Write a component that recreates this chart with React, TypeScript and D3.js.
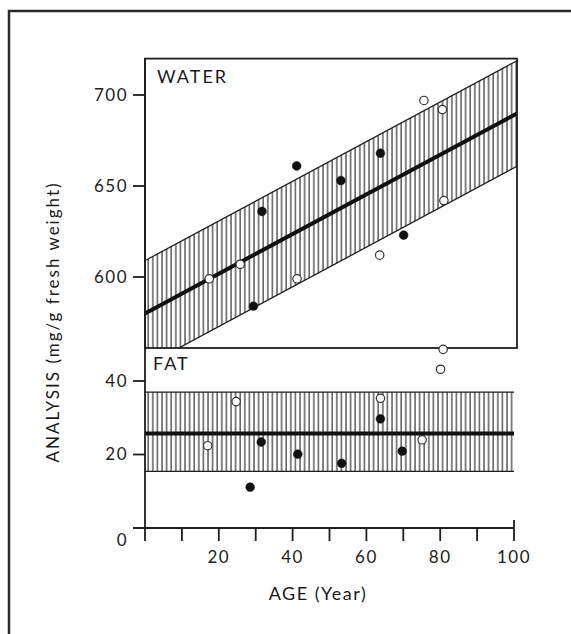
import React, {useEffect, useRef} from 'react';
import * as d3 from 'd3';

// water (mg/g fresh weight), [age, value]
const waterOpen: [number, number][] = [
    [17.4, 599], [25.8, 607], [41.2, 599], [63.6, 612], [75.6, 697], [80.6, 692], [81, 642],
];
const waterFilled: [number, number][] = [
    [29.4, 584], [31.7, 636], [41.1, 661], [53.1, 653], [63.8, 668], [70.1, 623],
];
// fat
const fatOpen: [number, number][] = [
    [17, 22.4], [24.7, 34.4], [63.8, 35.3], [75.1, 24], [80.1, 43.2], [80.8, 48.6],
];
const fatFilled: [number, number][] = [
    [28.5, 11.1], [31.5, 23.4], [41.4, 20.1], [53.3, 17.6], [63.8, 29.7], [69.7, 20.9],
];

// regression lines and bands
const waterFit = {intercept: 580, slope: 1.09, band: 29};
const fatFit = {mean: 25.7, upper: 37, lower: 15.4};

const xTicks = [20, 40, 60, 80, 100];
const xMinorTicks = [10, 30, 50, 70, 90];
const waterTicks = [600, 650, 700];
const fatTicks = [0, 20, 40];

const W = 571;
const H = 634;
const font = 'Lato, "Noto Sans", sans-serif';
const ink = '#1e1e1e';

const App: React.FC = () => {
    const svgRef = useRef<SVGSVGElement | null>(null);

    useEffect(() => {
        const root = d3.select(svgRef.current);
        root.selectAll('*').remove();
        const svg = root.attr('width', W).attr('height', H);

        const x = d3.scaleLinear().domain([0, 100]).range([145, 514]);
        const yW = d3.scaleLinear().domain([600, 700]).range([277, 95]);
        const yF = d3.scaleLinear().domain([0, 40]).range([528, 381]);

        const panelTop = yW(720);
        const panelBottom = 348;
        const panelLeft = x(0);
        const panelRight = x(100) + 3;

        const defs = svg.append('defs');
        const pat = defs.append('pattern')
            .attr('id', 'hatch')
            .attr('patternUnits', 'userSpaceOnUse')
            .attr('width', 4.6)
            .attr('height', 10);
        pat.append('line')
            .attr('x1', 1).attr('x2', 1).attr('y1', 0).attr('y2', 10)
            .attr('stroke', ink).attr('stroke-width', 1.1);

        defs.append('clipPath').attr('id', 'waterClip')
            .append('rect')
            .attr('x', panelLeft).attr('y', panelTop)
            .attr('width', panelRight - panelLeft).attr('height', panelBottom - panelTop);

        // outer frame
        svg.append('rect')
            .attr('x', 9).attr('y', 11)
            .attr('width', W + 20).attr('height', H + 20)
            .attr('fill', 'none').attr('stroke', '#2a2a2a').attr('stroke-width', 2.5);

        // water band
        const fit = (a: number) => waterFit.intercept + waterFit.slope * a;
        const ages = [-2, 102];
        const bandArea = d3.area<number>()
            .x(a => x(a))
            .y0(a => yW(fit(a) - waterFit.band))
            .y1(a => yW(fit(a) + waterFit.band));
        const wg = svg.append('g').attr('clip-path', 'url(#waterClip)');
        wg.append('path').datum(ages).attr('d', bandArea).attr('fill', 'url(#hatch)');
        const edge = (off: number) => d3.line<number>().x(a => x(a)).y(a => yW(fit(a) + off));
        [waterFit.band, -waterFit.band].forEach(off => {
            wg.append('path').datum(ages).attr('d', edge(off))
                .attr('fill', 'none').attr('stroke', ink).attr('stroke-width', 1.3);
        });
        wg.append('path').datum(ages).attr('d', edge(0))
            .attr('fill', 'none').attr('stroke', '#111').attr('stroke-width', 4);

        // fat band
        svg.append('rect')
            .attr('x', x(0)).attr('y', yF(fatFit.upper))
            .attr('width', x(100) - x(0)).attr('height', yF(fatFit.lower) - yF(fatFit.upper))
            .attr('fill', 'url(#hatch)');
        [fatFit.upper, fatFit.lower].forEach(v => {
            svg.append('line')
                .attr('x1', x(0)).attr('x2', x(100))
                .attr('y1', yF(v)).attr('y2', yF(v))
                .attr('stroke', ink).attr('stroke-width', 1.3);
        });
        svg.append('line')
            .attr('x1', x(0)).attr('x2', x(100))
            .attr('y1', yF(fatFit.mean)).attr('y2', yF(fatFit.mean))
            .attr('stroke', '#111').attr('stroke-width', 4);

        // water panel frame
        svg.append('rect')
            .attr('x', panelLeft).attr('y', panelTop)
            .attr('width', panelRight - panelLeft).attr('height', panelBottom - panelTop)
            .attr('fill', 'none').attr('stroke', ink).attr('stroke-width', 1.8);

        // points
        const dots = (data: [number, number][], y: d3.ScaleLinear<number, number>, open: boolean) => {
            svg.append('g').selectAll('circle')
                .data(data)
                .enter()
                .append('circle')
                .attr('cx', d => x(d[0]))
                .attr('cy', d => y(d[1]))
                .attr('r', open ? 4.2 : 4.4)
                .attr('fill', open ? '#fff' : '#111')
                .attr('stroke', open ? '#333' : '#111')
                .attr('stroke-width', open ? 1.2 : 0.5);
        };
        dots(waterFilled, yW, false);
        dots(waterOpen, yW, true);
        dots(fatFilled, yF, false);
        dots(fatOpen, yF, true);

        // axes
        svg.append('line')
            .attr('x1', x(0)).attr('x2', x(0))
            .attr('y1', panelTop).attr('y2', yF(0) + 13)
            .attr('stroke', ink).attr('stroke-width', 1.8);
        svg.append('line')
            .attr('x1', x(0) - 12).attr('x2', x(100))
            .attr('y1', yF(0)).attr('y2', yF(0))
            .attr('stroke', ink).attr('stroke-width', 1.8);

        [...xTicks, ...xMinorTicks].forEach(t => {
            svg.append('line')
                .attr('x1', x(t)).attr('x2', x(t))
                .attr('y1', t === 100 ? yF(0) - 8 : yF(0)).attr('y2', yF(0) + 13)
                .attr('stroke', ink).attr('stroke-width', 1.8);
        });
        svg.append('g').selectAll('text')
            .data(xTicks)
            .enter()
            .append('text')
            .attr('x', d => x(d))
            .attr('y', 563)
            .attr('text-anchor', 'middle')
            .attr('font-family', font).attr('font-size', 17).attr('letter-spacing', 1.5)
            .attr('fill', '#222')
            .text(d => d);

        const yTick = (v: number, py: number, dy: number) => {
            if (v !== 0) {
                svg.append('line')
                    .attr('x1', x(0) - 12).attr('x2', x(0))
                    .attr('y1', py).attr('y2', py)
                    .attr('stroke', ink).attr('stroke-width', 1.8);
            }
            svg.append('text')
                .attr('x', 128).attr('y', py + dy)
                .attr('dy', '0.35em')
                .attr('text-anchor', 'end')
                .attr('font-family', font).attr('font-size', 17).attr('letter-spacing', 1.5)
                .attr('fill', '#222')
                .text(v);
        };
        waterTicks.forEach(v => yTick(v, yW(v), 0));
        fatTicks.forEach(v => yTick(v, yF(v), v === 0 ? 12 : 0));

        // panel labels
        svg.append('text')
            .attr('x', 157).attr('y', 83)
            .attr('font-family', font).attr('font-size', 18).attr('letter-spacing', 2)
            .attr('fill', '#1a1a1a')
            .text('WATER');
        svg.append('text')
            .attr('x', 153).attr('y', 370)
            .attr('font-family', font).attr('font-size', 18).attr('letter-spacing', 2)
            .attr('fill', '#1a1a1a')
            .text('FAT');

        // axis titles
        svg.append('text')
            .attr('x', 318).attr('y', 600)
            .attr('text-anchor', 'middle')
            .attr('font-family', font).attr('font-size', 18).attr('letter-spacing', 1.5)
            .attr('fill', '#1a1a1a')
            .text('AGE (Year)');
        svg.append('text')
            .attr('transform', 'translate(59, 322) rotate(-90)')
            .attr('text-anchor', 'middle')
            .attr('font-family', font).attr('font-size', 17).attr('letter-spacing', 2)
            .attr('fill', '#1a1a1a')
            .text('ANALYSIS (mg/g fresh weight)');
    }, []);

    return <svg ref={svgRef} style={{position: 'absolute', left: 0, top: 0}}></svg>;
};

export default App;
